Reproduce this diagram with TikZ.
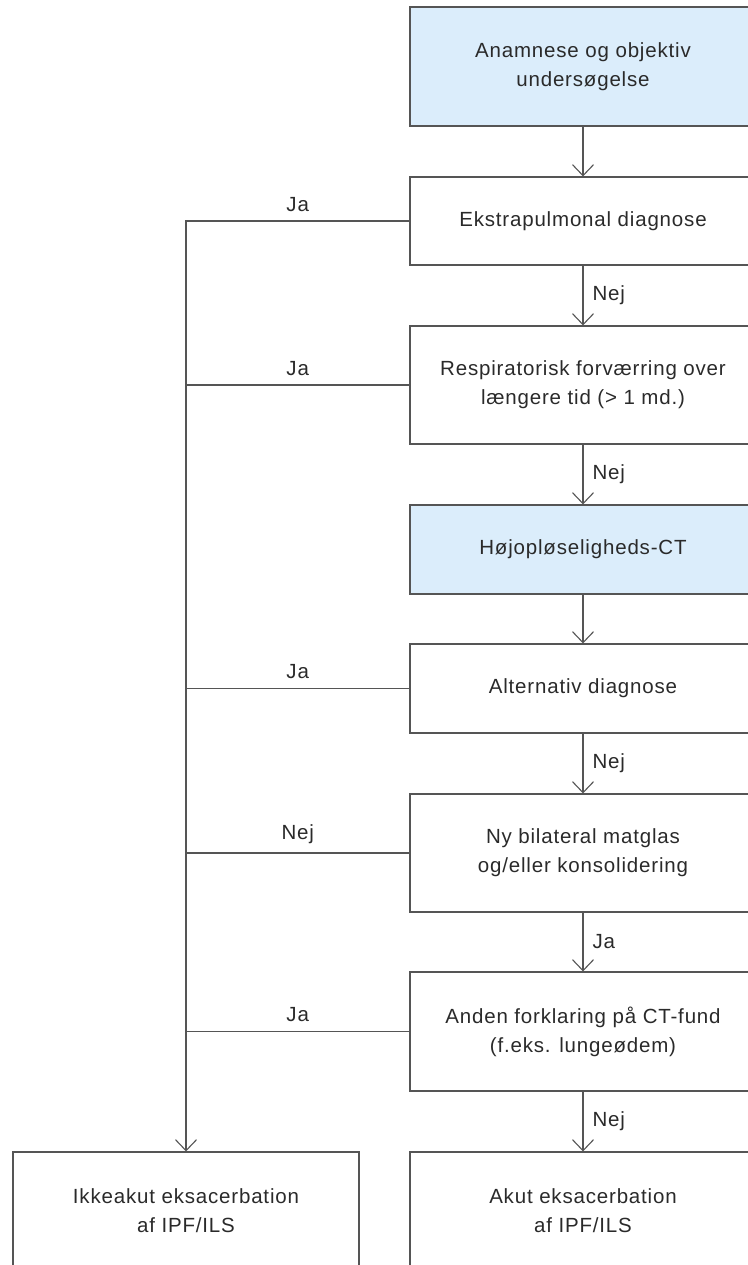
\documentclass[tikz,border=0pt]{standalone}
\usepackage{fontspec}
\setmainfont{Liberation Sans}[LetterSpace=4]
\usetikzlibrary{arrows.meta}
\definecolor{boxblue}{HTML}{DBEDFB}
\definecolor{linegray}{HTML}{555555}
\definecolor{textgray}{HTML}{2A2A2A}
\tikzset{
  box/.style={draw=linegray, line width=1.1pt, minimum width=346pt, inner sep=0pt,
    align=center, text=textgray, font=\fontsize{20.5}{29}\selectfont},
  bluebox/.style={box, fill=boxblue},
  conn/.style={draw=linegray, line width=1.1pt},
  arr/.style={conn, -{Straight Barb[length=11pt,width=21pt,line width=1.1pt]}},
  lab/.style={text=textgray, font=\fontsize{20.5}{24}\selectfont, inner sep=0pt}
}
\begin{document}
\begin{tikzpicture}[x=1pt,y=-1pt]
\useasboundingbox (0,0) rectangle (747,1265);
\node[bluebox, minimum height=119pt] (b1) at (583,66.5) {Anamnese og objektiv\\undersøgelse};
\node[box, minimum height=88pt] (b2) at (583,221) {Ekstrapulmonal diagnose};
\node[box, minimum height=118pt] (b3) at (583,385) {Respiratorisk forværring over\\længere tid (> 1 md.)};
\node[bluebox, minimum height=89pt] (b4) at (583,549.5) {Højopløseligheds-CT};
\node[box, minimum height=89pt] (b5) at (583,688.5) {Alternativ diagnose};
\node[box, minimum height=118pt] (b6) at (583,853) {Ny bilateral matglas\\og/eller konsolidering};
\node[box, minimum height=119pt] (b7) at (583,1031.5) {Anden forklaring på CT-fund\\(f.eks. lungeødem)};
\node[box, minimum height=118pt] (b8) at (583,1211) {Akut eksacerbation\\af IPF/ILS};
\node[box, minimum height=118pt] (left) at (186,1211) {Ikkeakut eksacerbation\\af IPF/ILS};

\draw[arr] (b1.south) -- (b2.north);
\draw[arr] (b2.south) -- node[lab, right=9pt] {Nej} (b3.north);
\draw[arr] (b3.south) -- node[lab, right=9pt] {Nej} (b4.north);
\draw[arr] (b4.south) -- (b5.north);
\draw[arr] (b5.south) -- node[lab, right=9pt] {Nej} (b6.north);
\draw[arr] (b6.south) -- node[lab, right=9pt] {Ja} (b7.north);
\draw[arr] (b7.south) -- node[lab, right=9pt] {Nej} (b8.north);

\draw[arr] (b2.west) -- node[lab, above=9pt] {Ja} (b2.west -| left.north) -- (left.north);
\draw[conn] (b3.west) -- node[lab, above=9pt] {Ja} (b3.west -| left.north);
\draw[conn] (b5.west) -- node[lab, above=9pt] {Ja} (b5.west -| left.north);
\draw[conn] (b6.west) -- node[lab, above=9pt] {Nej} (b6.west -| left.north);
\draw[conn] (b7.west) -- node[lab, above=9pt] {Ja} (b7.west -| left.north);
\end{tikzpicture}
\end{document}
